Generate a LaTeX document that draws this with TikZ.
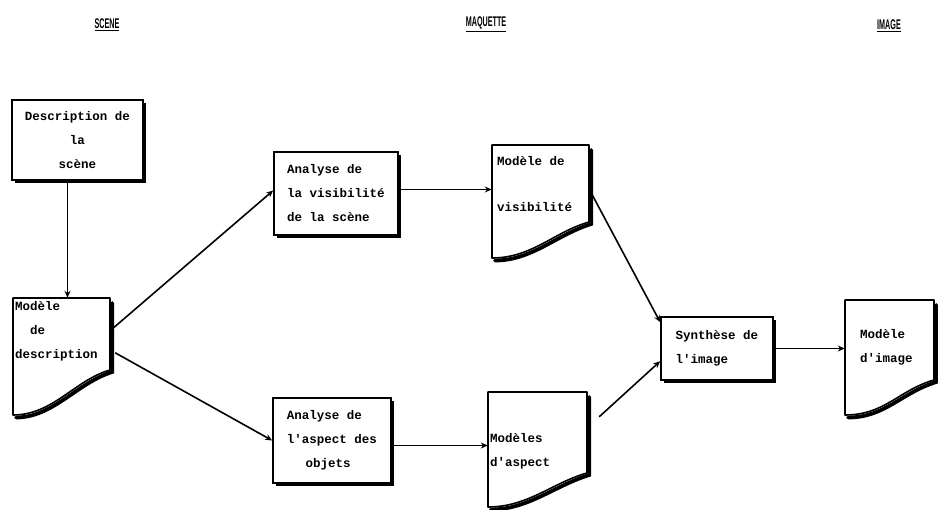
\documentclass[tikz,border=0pt]{standalone}
\usepackage{fontspec}
\setmonofont{Liberation Mono}
\newfontfamily\headfont{Liberation Sans}
\usetikzlibrary{arrows.meta,shadows}
\tikzset{
  box/.style={draw, line width=1.6pt, fill=white, inner sep=0pt,
    drop shadow={shadow xshift=3pt, shadow yshift=-3pt, fill=black, opacity=1},
    font=\ttfamily\fontsize{12.5}{24}\selectfont\bfseries},
  doctext/.style={anchor=north west, inner sep=0pt, align=left,
    font=\ttfamily\fontsize{12.5}{24}\selectfont\bfseries},
  head/.style={font=\headfont\bfseries\fontsize{10}{10}\selectfont, inner sep=1pt},
  arr/.style={line width=1.6pt, -{Stealth[length=7pt,width=6pt]}},
}
% document shape: name, x1, y1 (top), x2 (right), y3 (right bottom), y4 (left bottom)
\newcommand\mydoc[6]{%
  \draw[line width=3.8pt, line cap=round] (#4+2.2,#3+5) -- (#4+2.2,#5+2)
     .. controls (#4-33,#5+13) and (#2+40,#6+2.5) .. (#2+3,#6+2.5);
  \filldraw[fill=white, line width=1.6pt, line join=round] (#2,#3) -- (#4,#3) -- (#4,#5)
     .. controls (#4-35,#5+10) and (#2+40,#6) .. (#2,#6) -- cycle;
  \node[inner sep=0pt, minimum width={(#4-#2)*1pt}, minimum height={(#6-#3)*1pt}]
     (#1) at ({(#2+#4)/2},{(#3+#6)/2}) {};
}
\begin{document}
\begin{tikzpicture}[x=1pt,y=-1pt]
\useasboundingbox (0,0) rectangle (938,510);

% headings
\node[head] (hscene) at (107,25) {\scalebox{0.72}[1.4]{\underline{SCENE}}};
\node[head] (hmaq) at (486,24) {\scalebox{0.72}[1.4]{\underline{MAQUETTE}}};
\node[head] (himg) at (889,26) {\scalebox{0.72}[1.4]{\underline{IMAGE}}};

% boxes
\node[box, minimum width=131pt, minimum height=80pt, align=center] (descscene) at (77.5,140)
  {Description de\\la\\scène};
\node[box, minimum width=124pt, minimum height=83pt, align=left] (anvis) at (336,193.5)
  {Analyse de\\la visibilité\\de la scène};
\node[box, minimum width=118pt, minimum height=85pt, align=left] (anasp) at (332,440.5)
  {Analyse de\\l'aspect des\\\hspace*{1.5em}objets};
\node[box, minimum width=112pt, minimum height=63pt, align=left] (synth) at (717,348.5)
  {Synthèse de\\l'image};

% documents
\mydoc{moddesc}{13}{298}{110}{370}{415}
\node[doctext] (moddesct) at (15,301) {Modèle\\\hspace*{1.2em}de\\description};
\mydoc{modvis}{492}{145}{589}{222}{258}
\node[doctext] (modvist) at (497,156) {Modèle de\\[22pt]visibilité};
\mydoc{modasp}{488}{392}{587}{473}{507}
\node[doctext] (modaspt) at (490,433) {Modèles\\d'aspect};
\mydoc{modimg}{845}{300}{934}{380}{415}
\node[doctext] (modimgt) at (860,329) {Modèle\\d'image};

% connectors
\draw[arr] ([xshift=-10pt]descscene.south) -- ([xshift=-10pt]descscene.south |- moddesc.north);
\draw[arr] ([yshift=-32pt,xshift=1pt]moddesc.north east) -- ([yshift=3pt]anvis.west);
\draw[arr] ([yshift=-55pt,xshift=5pt]moddesc.north east) -- (anasp.west);
\draw[arr] ([yshift=4pt]anvis.east) -- ([yshift=4pt]anvis.east -| modvis.west);
\draw[arr] ([yshift=-5pt]anasp.east) -- ([yshift=-5pt]anasp.east -| modasp.west);
\draw[arr] ([yshift=-50pt,xshift=3pt]modvis.north east) -- ([yshift=-6pt]synth.north west);
\draw[arr] ([yshift=-25pt,xshift=12pt]modasp.north east) -- ([yshift=-45pt]synth.north west);
\draw[arr] (synth.east) -- (synth.east -| modimg.west);
\end{tikzpicture}
\end{document}
